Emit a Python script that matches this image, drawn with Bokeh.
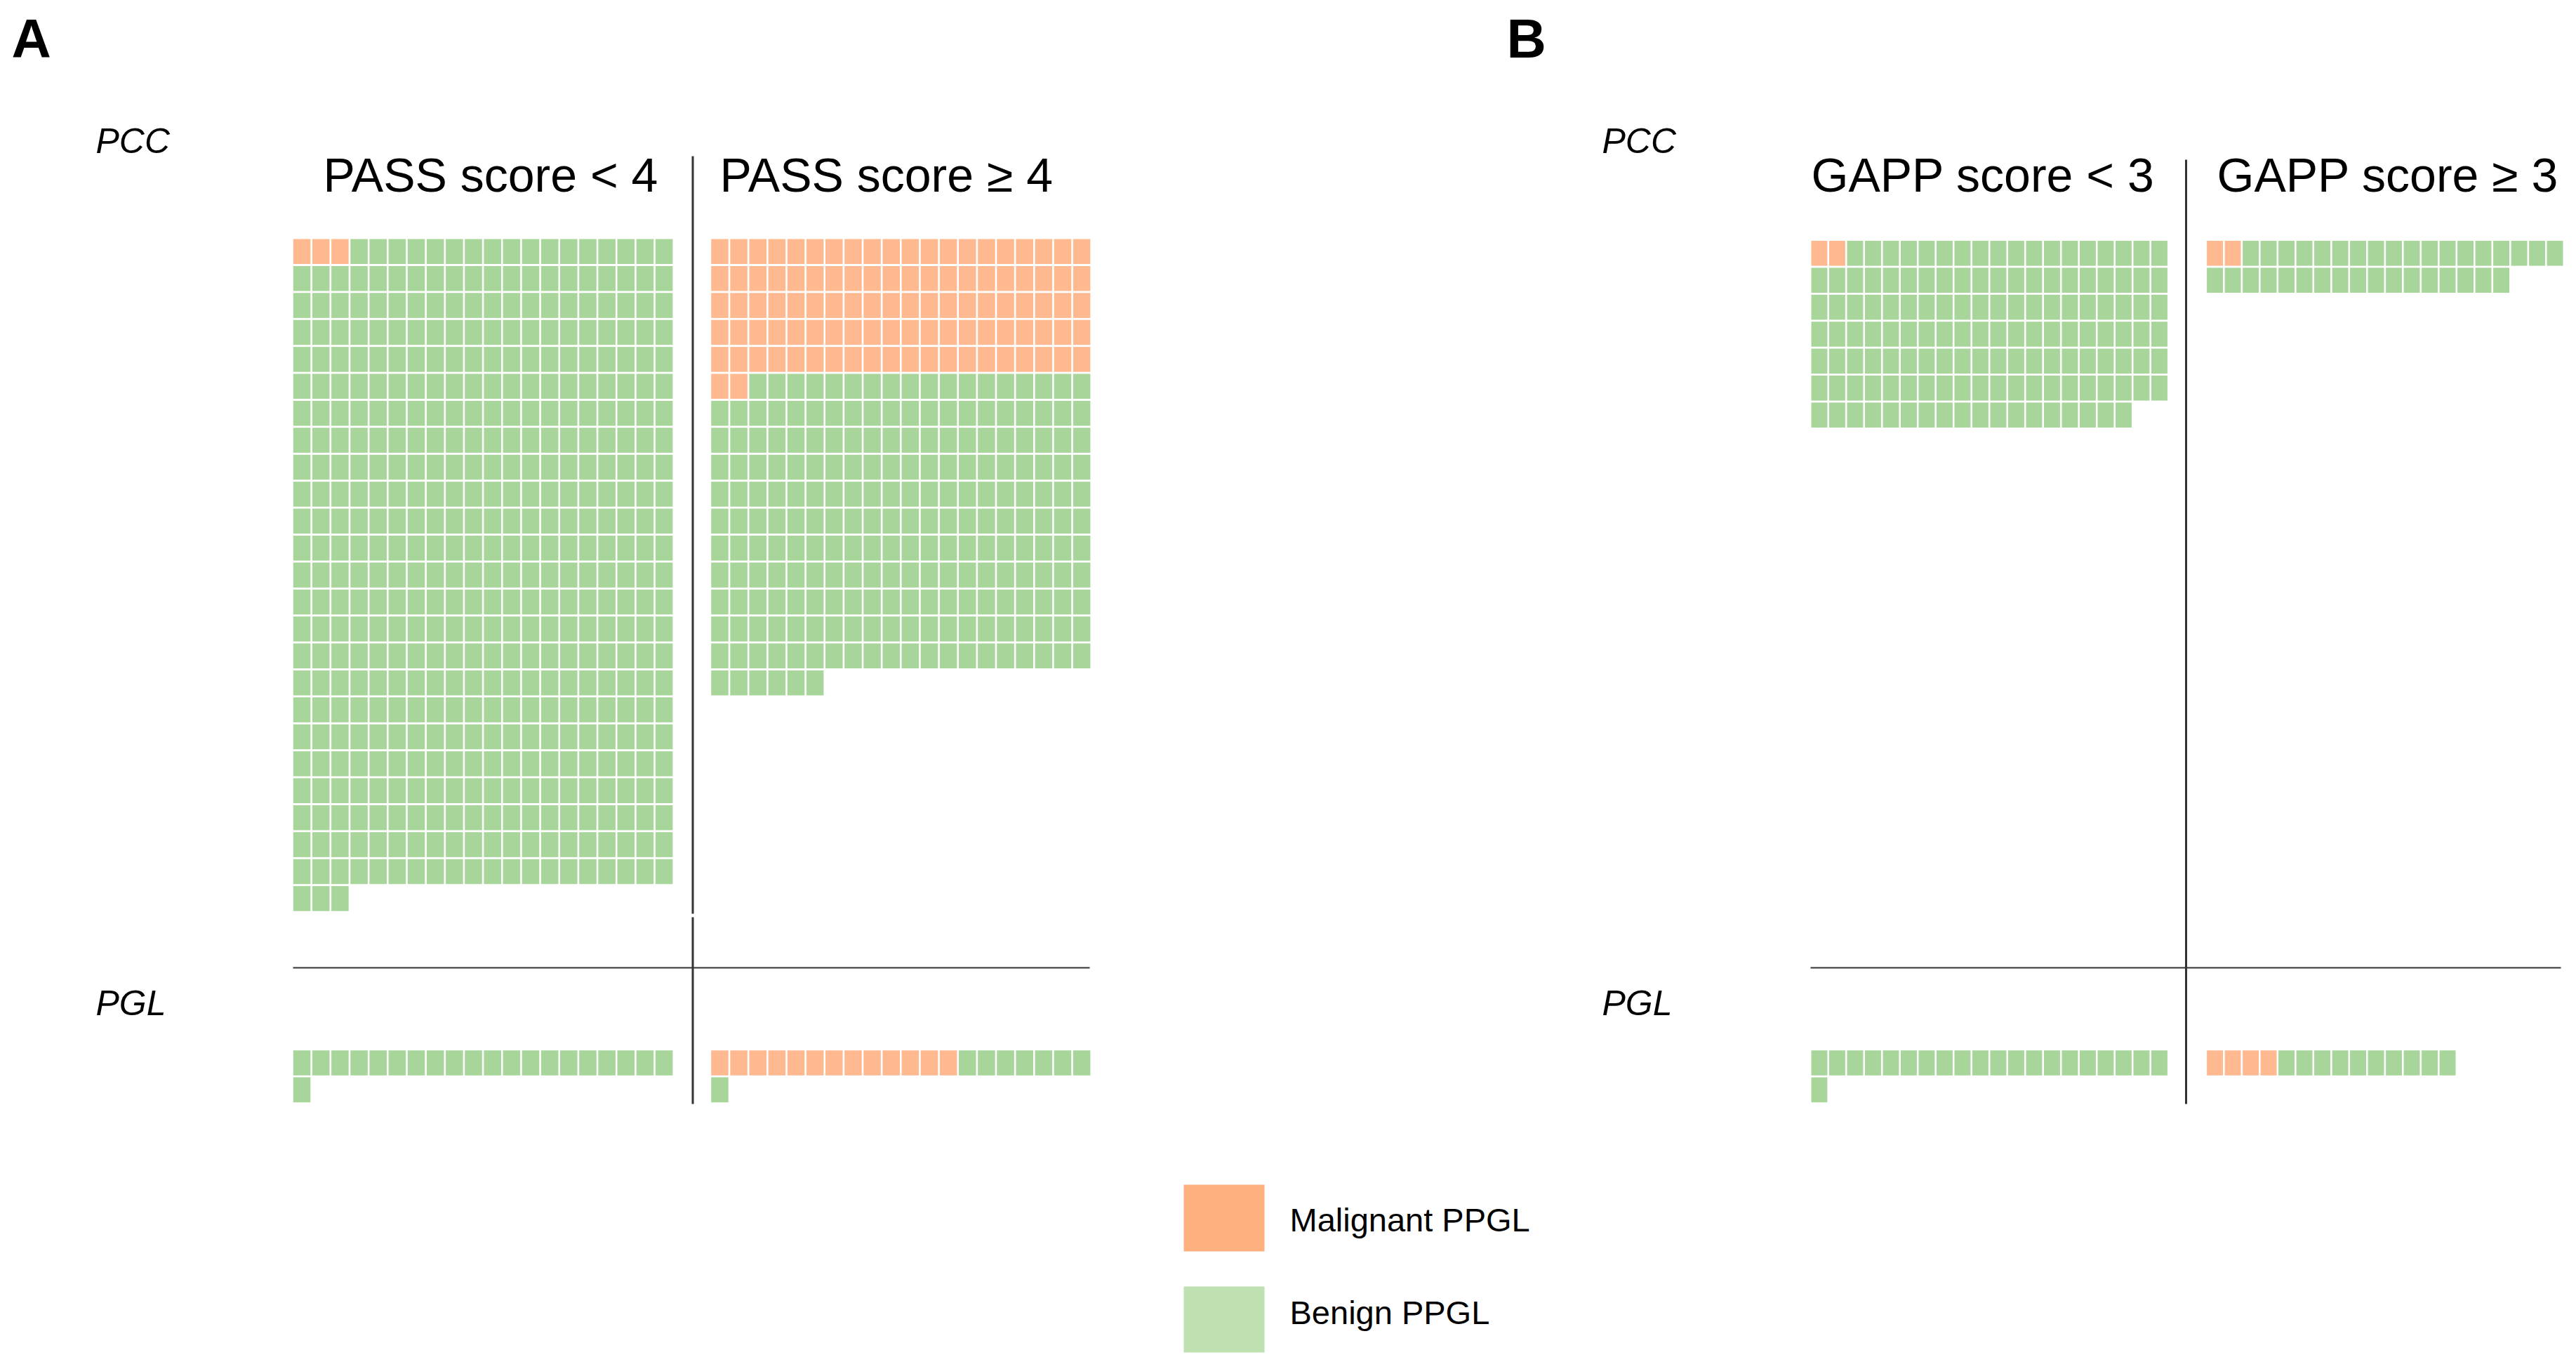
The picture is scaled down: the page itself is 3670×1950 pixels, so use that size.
import numpy as np
from bokeh.plotting import figure
from bokeh.models import Range1d, ColumnDataSource
from bokeh.core.properties import value
from bokeh.embed import file_html
from bokeh.resources import INLINE

# ---------------- data ----------------
panel_letters = ["A", "B"]
groups = ["PASS score < 4", "PASS score ≥ 4", "GAPP score < 3", "GAPP score ≥ 3"]
tumour_types = ["PCC", "PGL"]
pcc_malignant = [3, 102, 2, 2]
pcc_benign = [480, 224, 136, 35]
pgl_malignant = [0, 13, 0, 4]
pgl_benign = [21, 8, 21, 10]
legend_labels = ["Malignant PPGL", "Benign PPGL"]
N_COLS = 20

# ---------------- styling / layout ----------------
MAL_COLOR = "#FFB991"
BEN_COLOR = "#A8D59A"
LEG_MAL = "#FFB07F"
LEG_BEN = "#BFE0B0"
FONT = "Liberation Sans"

W, H = 3654, 1934
block_x0 = [417.3, 1012.7, 2580.0, 3143.6]
col_pitch = [27.16, 27.14, 25.5, 25.5]
pcc_top = [340.0, 340.0, 342.5, 342.5]
pgl_top = 1495.7
row_pitch = 38.4
gap_x, gap_y = 2.6, 2.8
TXT_SHIFT = 0.35  # baseline correction (fraction of font size)

p = figure(width=W, height=H, x_range=Range1d(0, W), y_range=Range1d(H, 0),
           output_backend="svg", toolbar_location=None, min_border=0)
p.axis.visible = False
p.grid.visible = False
p.outline_line_color = None
p.background_fill_color = "white"
p.border_fill_color = "white"

left, right, top, bottom, color = [], [], [], [], []


def add_waffle(gi, n_mal, n_ben, y0):
    statuses = [MAL_COLOR] * n_mal + [BEN_COLOR] * n_ben
    for i, c in enumerate(statuses):
        col, row = i % N_COLS, i // N_COLS
        x = block_x0[gi] + col * col_pitch[gi]
        y = y0 + row * row_pitch
        left.append(x)
        right.append(x + col_pitch[gi] - gap_x)
        top.append(y)
        bottom.append(y + row_pitch - gap_y)
        color.append(c)


for gi in range(len(groups)):
    add_waffle(gi, pcc_malignant[gi], pcc_benign[gi], pcc_top[gi])
    add_waffle(gi, pgl_malignant[gi], pgl_benign[gi], pgl_top)

src = ColumnDataSource(dict(left=left, right=right, top=top, bottom=bottom, color=color))
p.quad(left="left", right="right", top="top", bottom="bottom", fill_color="color",
       line_color=None, source=src)

# divider lines
p.segment(x0=[986.5, 986.5, 3114.0, 417.0, 2579.0], y0=[222, 1306, 227, 1378, 1378],
          x1=[986.5, 986.5, 3114.0, 1552.0, 3648.0], y1=[1301, 1572, 1572, 1378, 1378],
          line_color="#333333", line_width=[3, 3, 3, 2.2, 2.2])


def txt(xs, ys, texts, size, style="normal"):
    ys = [y - TXT_SHIFT * size for y in ys]
    p.text(x=xs, y=ys, text=texts, text_font=value(FONT), text_font_style=style,
           text_font_size=f"{size}px", text_color="black",
           text_baseline="alphabetic", text_align="left")


# panel letters
txt([16, 2146], [82, 82], panel_letters, 78, "bold")
# tumour type labels
txt([136, 136, 2282, 2282], [218, 1446, 218, 1446],
    [tumour_types[0], tumour_types[1], tumour_types[0], tumour_types[1]], 50, "italic")
# group titles
txt([460, 1025, 2580, 3158], [272] * 4, groups, 68)

# legend
p.quad(left=[1686, 1686], right=[1801, 1801], top=[1687, 1832], bottom=[1782, 1926],
       fill_color=[LEG_MAL, LEG_BEN], line_color=None)
txt([1837, 1837], [1753, 1885], legend_labels, 47)

open("out.html", "w").write(file_html(p, INLINE))
